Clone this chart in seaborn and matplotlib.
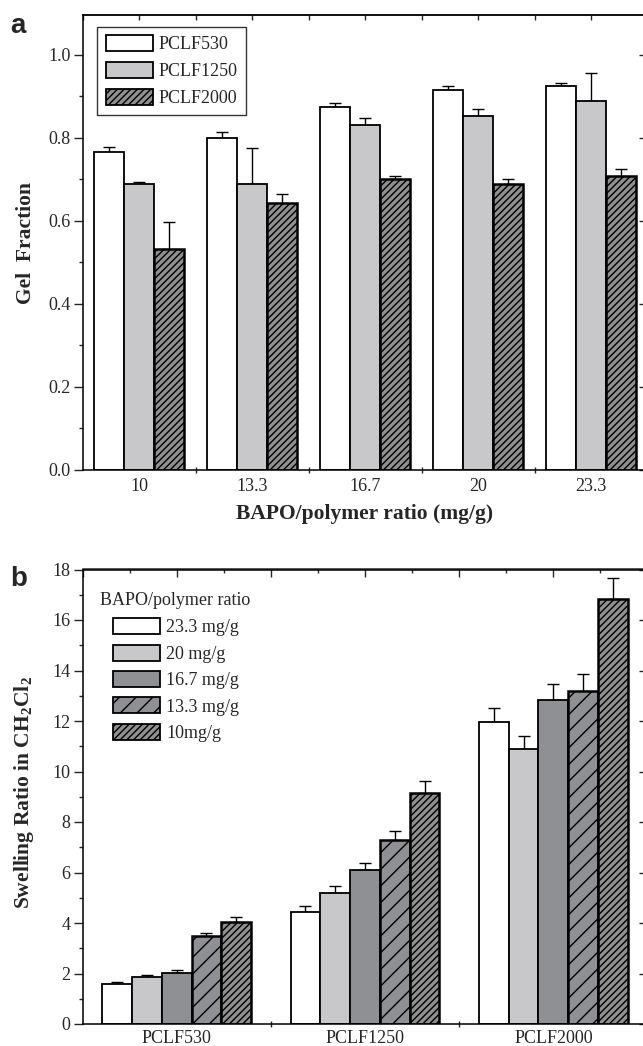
import numpy as np
import pandas as pd
import matplotlib
matplotlib.use("Agg")
import matplotlib.pyplot as plt
from matplotlib.patches import Patch
from matplotlib.ticker import MultipleLocator, FixedLocator, FormatStrFormatter
import seaborn as sns

# ---------------- data: panel a ----------------
ratios_a = ["10", "13.3", "16.7", "20", "23.3"]
series_a = ["PCLF530", "PCLF1250", "PCLF2000"]
gel_530 = [0.765, 0.799, 0.875, 0.916, 0.925]
gel_530_err = [0.012, 0.014, 0.010, 0.009, 0.007]
gel_1250 = [0.690, 0.690, 0.832, 0.852, 0.888]
gel_1250_err = [0.003, 0.086, 0.015, 0.018, 0.069]
gel_2000 = [0.533, 0.643, 0.700, 0.690, 0.709]
gel_2000_err = [0.064, 0.021, 0.009, 0.012, 0.015]

# ---------------- data: panel b ----------------
polymers_b = ["PCLF530", "PCLF1250", "PCLF2000"]
levels_b = ["23.3 mg/g", "20 mg/g", "16.7 mg/g", "13.3 mg/g", "10mg/g"]
sw_233 = [1.60, 4.45, 11.95]
sw_233_err = [0.08, 0.23, 0.58]
sw_20 = [1.86, 5.20, 10.91]
sw_20_err = [0.10, 0.26, 0.51]
sw_167 = [2.03, 6.08, 12.83]
sw_167_err = [0.09, 0.29, 0.64]
sw_133 = [3.47, 7.28, 13.20]
sw_133_err = [0.15, 0.35, 0.65]
sw_10 = [4.03, 9.16, 16.84]
sw_10_err = [0.20, 0.46, 0.81]

# ---------------- style ----------------
sns.set_style("ticks")
plt.rcParams["font.family"] = ["Liberation Serif", "DejaVu Serif"]
plt.rcParams["mathtext.fontset"] = "custom"
plt.rcParams["mathtext.rm"] = "Liberation Serif"
plt.rcParams["mathtext.bf"] = "Liberation Serif:bold"
plt.rcParams["hatch.linewidth"] = 1.0
plt.rcParams["axes.linewidth"] = 1.1

W, H = 643, 1046
fig = plt.figure(figsize=(W / 100, H / 100), dpi=100)

def frac_axes(left, top, right, bottom):
    return fig.add_axes([left / W, 1 - bottom / H, (right - left) / W, (bottom - top) / H])

ax_a = frac_axes(82.5, 15, 647.5, 470)
ax_b = frac_axes(82.5, 569.5, 647.5, 1024)

WHITE = "#ffffff"
LIGHT = "#c8c8ca"
MID = "#8f9094"
HATCHFACE = "#909090"
LABEL_SIZE = 15.5

def style_axes(ax, n, ylim, ymaj, ymin, top_minor=None, top_len=3.5):
    ax.set_xlim(-0.5, n - 0.5)
    ax.set_ylim(*ylim)
    ax.yaxis.set_major_locator(MultipleLocator(ymaj))
    ax.yaxis.set_minor_locator(MultipleLocator(ymin))
    ax.tick_params(axis="y", which="major", direction="out", length=6.5, width=1,
                   labelsize=13, pad=2, left=True, right=False)
    ax.tick_params(axis="y", which="minor", direction="out", length=3.2, width=1,
                   left=True, right=False)
    ax.set_xticks(range(n))
    ax.xaxis.set_minor_locator(FixedLocator(np.arange(0.5, n - 0.5, 1.0)))
    ax.tick_params(axis="x", which="major", length=0, labelsize=13, pad=6)
    ax.tick_params(axis="x", which="minor", direction="inout", length=4, width=1)
    for s in ["top", "left", "bottom", "right"]:
        ax.spines[s].set_visible(True)
        ax.spines[s].set_color("black")
    sec_y = ax.secondary_yaxis("right")
    sec_y.yaxis.set_major_locator(MultipleLocator(ymaj))
    sec_y.tick_params(axis="y", direction="in", length=6.5, width=1, labelright=False)
    sec_x = ax.secondary_xaxis("top")
    sec_x.xaxis.set_major_locator(FixedLocator(np.arange(-0.5, n, 0.5)))
    if top_minor is not None:
        sec_x.xaxis.set_minor_locator(FixedLocator(top_minor))
        sec_x.tick_params(axis="x", which="minor", direction="in", length=3, width=1)
    sec_x.tick_params(axis="x", which="major", direction="in", length=top_len, width=1,
                      labeltop=False)

def add_errorbars(ax, err_lists):
    for cont, errs in zip(ax.containers, err_lists):
        xs = [b.get_x() + b.get_width() / 2 for b in cont]
        hs = [b.get_height() for b in cont]
        ax.errorbar(xs, hs, yerr=[np.zeros(len(errs)), errs], fmt="none",
                    ecolor="black", elinewidth=1, capsize=4.5, capthick=1, zorder=1)

# ---------------- panel a ----------------
df_a = pd.DataFrame({
    "ratio": ratios_a * 3,
    "series": [s for s in series_a for _ in ratios_a],
    "value": gel_530 + gel_1250 + gel_2000,
})
pal_a = {"PCLF530": WHITE, "PCLF1250": LIGHT, "PCLF2000": HATCHFACE}
sns.barplot(data=df_a, x="ratio", y="value", hue="series", order=ratios_a,
            hue_order=series_a, palette=pal_a, saturation=1, errorbar=None,
            width=0.8, edgecolor="black", linewidth=1.3, legend=False, ax=ax_a, zorder=2)
hatch_a = {"PCLF530": None, "PCLF1250": None, "PCLF2000": "/////"}
for cont, s in zip(ax_a.containers, series_a):
    for b in cont:
        if hatch_a[s]:
            b.set_hatch(hatch_a[s])
            b.set_linewidth(1.8)
add_errorbars(ax_a, [gel_530_err, gel_1250_err, gel_2000_err])
style_axes(ax_a, len(ratios_a), (0, 1.096), 0.2, 0.1)
ax_a.yaxis.set_major_formatter(FormatStrFormatter("%.1f"))
ax_a.set_xlabel("BAPO/polymer ratio (mg/g)", fontsize=LABEL_SIZE, fontweight="bold", labelpad=6)
ax_a.set_ylabel("Gel  Fraction", fontsize=LABEL_SIZE, fontweight="bold")
ax_a.yaxis.set_label_coords(-0.083, 0.5)

handles_a = [Patch(facecolor=pal_a[s], edgecolor="black", linewidth=1.3,
                   hatch=hatch_a[s]) for s in series_a]
leg_a = ax_a.legend(handles_a, series_a, loc="upper left", bbox_to_anchor=(0.0265, 0.974),
                    borderaxespad=0, frameon=True, fancybox=False, edgecolor="black",
                    fontsize=13, handlelength=2.6, handleheight=0.95, labelspacing=0.5,
                    handletextpad=0.35, borderpad=0.45)
leg_a.get_frame().set_linewidth(1.0)

# ---------------- panel b ----------------
df_b = pd.DataFrame({
    "polymer": polymers_b * 5,
    "level": [l for l in levels_b for _ in polymers_b],
    "value": sw_233 + sw_20 + sw_167 + sw_133 + sw_10,
})
pal_b = {"23.3 mg/g": WHITE, "20 mg/g": LIGHT, "16.7 mg/g": MID,
         "13.3 mg/g": MID, "10mg/g": HATCHFACE}
hatch_b = {"23.3 mg/g": None, "20 mg/g": None, "16.7 mg/g": None,
           "13.3 mg/g": "//", "10mg/g": "/////"}
sns.barplot(data=df_b, x="polymer", y="value", hue="level", order=polymers_b,
            hue_order=levels_b, palette=pal_b, saturation=1, errorbar=None,
            width=0.79, edgecolor="black", linewidth=1.3, legend=False, ax=ax_b, zorder=2)
for cont, l in zip(ax_b.containers, levels_b):
    for b in cont:
        if hatch_b[l]:
            b.set_hatch(hatch_b[l])
            b.set_linewidth(1.8)
add_errorbars(ax_b, [sw_233_err, sw_20_err, sw_167_err, sw_133_err, sw_10_err])
style_axes(ax_b, len(polymers_b), (0, 18), 2, 1,
           top_minor=np.arange(-0.25, 3, 0.5), top_len=5.5)
ax_b.set_xlabel("")
ax_b.set_ylabel("Swelling Ratio in CH$_\\mathbf{2}$Cl$_\\mathbf{2}$", fontsize=LABEL_SIZE,
                fontweight="bold")
ax_b.yaxis.set_label_coords(-0.083, 0.51)
ax_b.tick_params(axis="x", which="major", pad=4)

ax_b.text(0.031, 0.9307, "BAPO/polymer ratio", transform=ax_b.transAxes,
          fontsize=13, ha="left", va="center")
handles_b = [Patch(facecolor=pal_b[l], edgecolor="black", linewidth=1.3,
                   hatch=hatch_b[l]) for l in levels_b]
ax_b.legend(handles_b, levels_b, loc="upper left", bbox_to_anchor=(0.054, 0.893),
            borderaxespad=0, frameon=False, fontsize=13, handlelength=2.6,
            handleheight=1.0, labelspacing=0.45, handletextpad=0.35, borderpad=0)

# ---------------- panel letters ----------------
fig.text(10 / W, 1 - 33 / H, "a", fontsize=20, fontweight="bold",
         family=["Liberation Sans", "DejaVu Sans"], ha="left", va="baseline")
fig.text(10 / W, 1 - 586 / H, "b", fontsize=20, fontweight="bold",
         family=["Liberation Sans", "DejaVu Sans"], ha="left", va="baseline")

fig.savefig("out.png", dpi=100)
